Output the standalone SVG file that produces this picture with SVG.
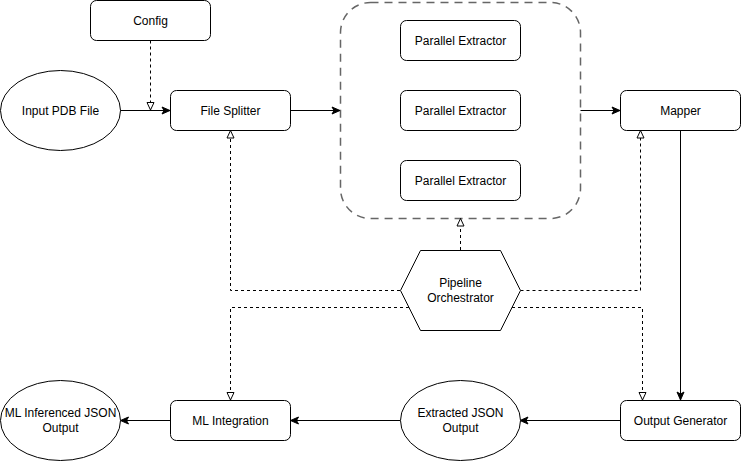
<svg xmlns="http://www.w3.org/2000/svg" width="741" height="461" viewBox="0 0 741 461">
<defs>
<marker id="solid" markerWidth="10" markerHeight="10" refX="9" refY="5" orient="auto" markerUnits="userSpaceOnUse">
<path d="M1,1.5 L9,5 L1,8.5 L3,5 Z" fill="#000" stroke="#000" stroke-width="1"/>
</marker>
<marker id="hollow" markerWidth="10" markerHeight="10" refX="9" refY="5" orient="auto" markerUnits="userSpaceOnUse">
<path d="M1.5,1.5 L9,5 L1.5,8.5 Z" fill="#fff" stroke="#000" stroke-width="1"/>
</marker>
</defs>
<style>
.box{fill:#fff;stroke:#000;stroke-width:1}
.lbl{font-family:"Liberation Sans",Arial,sans-serif;font-size:12px;fill:#000;text-anchor:middle;dominant-baseline:central}
.flow{fill:none;stroke:#000;stroke-width:1;marker-end:url(#solid)}
.ctl{fill:none;stroke:#000;stroke-width:1;stroke-dasharray:3 3;marker-end:url(#hollow)}
.group{fill:none;stroke:#666;stroke-width:1.5;stroke-dasharray:8 6}
</style>
<rect width="741" height="461" fill="#fff"/>
<g id="extractor-group">
<rect class="group" x="340.5" y="2.5" width="240" height="216" rx="30" ry="30"/>
</g>
<g id="connectors">
<path class="flow" d="M120,110.5 L170,110.5"/>
<path class="ctl" d="M150.5,40.5 L150.5,110"/>
<path class="flow" d="M290.5,110.5 L340,110.5"/>
<path class="flow" d="M580.5,110.5 L620,110.5"/>
<path class="flow" d="M680.5,130.5 L680.5,400"/>
<path class="flow" d="M620.5,420.5 L520,420.5"/>
<path class="flow" d="M400.5,420.5 L290.5,420.5"/>
<path class="flow" d="M170.5,420.5 L120.5,420.5"/>
<path class="ctl" d="M460.5,250 L460.5,218.5"/>
<path class="ctl" d="M400,290.5 L230.5,290.5 L230.5,130.5"/>
<path class="ctl" d="M520.5,290.5 L640.5,290.5 L640.5,130.5"/>
<path class="ctl" d="M409,307.5 L230.5,307.5 L230.5,400"/>
<path class="ctl" d="M512,307.5 L642.5,307.5 L642.5,400"/>
</g>
<g id="config">
<rect class="box" x="90.5" y="0.5" width="120" height="40" rx="6" ry="6"/>
<text class="lbl" x="150.5" y="20.5">Config</text>
</g>
<g id="input-pdb">
<ellipse class="box" cx="60.5" cy="110.5" rx="60" ry="40"/>
<text class="lbl" x="60.5" y="110.5">Input PDB File</text>
</g>
<g id="file-splitter">
<rect class="box" x="170.5" y="90.5" width="120" height="40" rx="6" ry="6"/>
<text class="lbl" x="230.5" y="110.5">File Splitter</text>
</g>
<g id="extractor-1">
<rect class="box" x="400.5" y="20.5" width="120" height="40" rx="6" ry="6"/>
<text class="lbl" x="460.5" y="40.5">Parallel Extractor</text>
</g>
<g id="extractor-2">
<rect class="box" x="400.5" y="90.5" width="120" height="40" rx="6" ry="6"/>
<text class="lbl" x="460.5" y="110.5">Parallel Extractor</text>
</g>
<g id="extractor-3">
<rect class="box" x="400.5" y="160.5" width="120" height="40" rx="6" ry="6"/>
<text class="lbl" x="460.5" y="180.5">Parallel Extractor</text>
</g>
<g id="mapper">
<rect class="box" x="620.5" y="90.5" width="120" height="40" rx="6" ry="6"/>
<text class="lbl" x="680.5" y="110.5">Mapper</text>
</g>
<g id="orchestrator">
<polygon class="box" points="400.5,290.5 420.5,250.5 500.5,250.5 520.5,290.5 500.5,330.5 420.5,330.5"/>
<text class="lbl" x="460.5" y="283">Pipeline</text>
<text class="lbl" x="460.5" y="298">Orchestrator</text>
</g>
<g id="output-generator">
<rect class="box" x="620.5" y="400.5" width="120" height="40" rx="6" ry="6"/>
<text class="lbl" x="680.5" y="420.5">Output Generator</text>
</g>
<g id="extracted-json">
<ellipse class="box" cx="460.5" cy="420.5" rx="60" ry="40"/>
<text class="lbl" x="460.5" y="413">Extracted JSON</text>
<text class="lbl" x="460.5" y="428">Output</text>
</g>
<g id="ml-integration">
<rect class="box" x="170.5" y="400.5" width="120" height="40" rx="6" ry="6"/>
<text class="lbl" x="230.5" y="420.5">ML Integration</text>
</g>
<g id="ml-output">
<ellipse class="box" cx="60.5" cy="420.5" rx="60" ry="40"/>
<text class="lbl" x="60.5" y="413">ML Inferenced JSON</text>
<text class="lbl" x="60.5" y="428">Output</text>
</g>
</svg>
